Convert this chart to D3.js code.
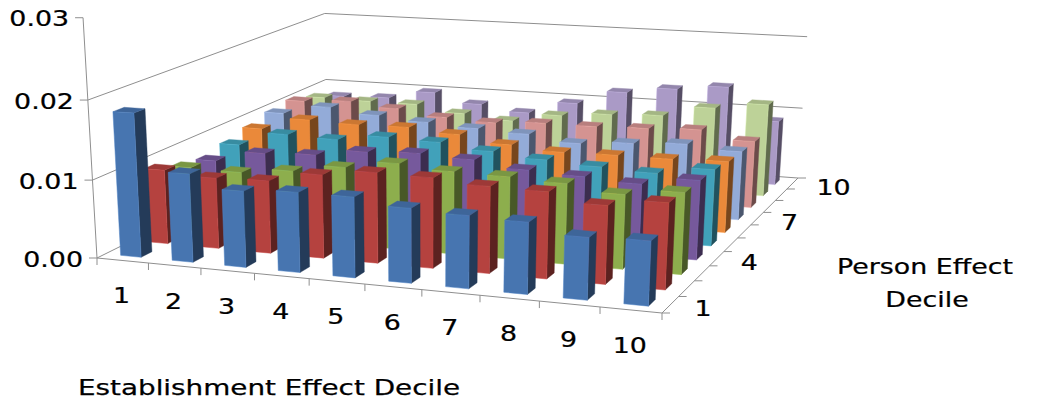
<!DOCTYPE html>
<html>
<head>
<meta charset="utf-8">
<script src="https://cdn.jsdelivr.net/npm/d3@7"></script>
<style>
body { margin: 0; background: #fff; }
svg { display: block; }
text { font-family: "DejaVu Sans", Verdana, sans-serif; font-size: 22px; fill: #000; stroke: #000; stroke-width: 0.25; }
</style>
</head>
<body>
<svg id="chart" width="1048" height="403"></svg>
<script>
// categories
var establishmentDeciles = ["1", "2", "3", "4", "5", "6", "7", "8", "9", "10"];
var personDeciles = ["1", "2", "3", "4", "5", "6", "7", "8", "9", "10"];
var personTickLabels = ["1", "4", "7", "10"];
var valueTicks = [0, 0.01, 0.02, 0.03];
var valueTickLabels = ["0.00", "0.01", "0.02", "0.03"];
var gridValues = [0, 0.01, 0.02];

// one series per person effect decile, values by establishment decile
var person1 = [0.0183, 0.0112, 0.0096, 0.0100, 0.0100, 0.0092, 0.0089, 0.0087, 0.0075, 0.0077];
var person2 = [0.0096, 0.0091, 0.0093, 0.0106, 0.0114, 0.0113, 0.0108, 0.0107, 0.0096, 0.0105];
var person3 = [0.0084, 0.0083, 0.0090, 0.0100, 0.0110, 0.0105, 0.0104, 0.0101, 0.0093, 0.0101];
var person4 = [0.0078, 0.0093, 0.0096, 0.0105, 0.0108, 0.0105, 0.0097, 0.0094, 0.0090, 0.0100];
var person5 = [0.0085, 0.0104, 0.0102, 0.0110, 0.0108, 0.0101, 0.0095, 0.0091, 0.0088, 0.0098];
var person6 = [0.0093, 0.0110, 0.0108, 0.0109, 0.0104, 0.0095, 0.0090, 0.0091, 0.0091, 0.0093];
var person7 = [0.0101, 0.0114, 0.0107, 0.0102, 0.0098, 0.0095, 0.0087, 0.0092, 0.0096, 0.0091];
var person8 = [0.0105, 0.0109, 0.0103, 0.0095, 0.0092, 0.0096, 0.0096, 0.0098, 0.0101, 0.0090];
var person9 = [0.0097, 0.0096, 0.0096, 0.0087, 0.0081, 0.0093, 0.0099, 0.0102, 0.0117, 0.0126];
var person10 = [0.0086, 0.0088, 0.0100, 0.0087, 0.0079, 0.0097, 0.0117, 0.0126, 0.0133, 0.0089];

var seriesValues = [person1, person2, person3, person4, person5, person6, person7, person8, person9, person10];
var seriesColors = ["#4775B0", "#B5423F", "#8DAE4D", "#76599C", "#41A1BA",
                    "#EA893A", "#93ABD8", "#D49391", "#BDD298", "#AA9AC6"];

// camera: floor corners on screen and the vanishing point of vertical edges
var floorFL = [97, 258], floorFR = [662, 313], floorBR = [798, 178], floorBL = [327, 144];
var verticalVanish = [426, 5924];
var liftPerUnit = -1.356;

// square -> quad homography for the floor
var dx1 = floorFR[0] - floorBR[0], dx2 = floorBL[0] - floorBR[0],
    dx3 = floorFL[0] - floorFR[0] + floorBR[0] - floorBL[0];
var dy1 = floorFR[1] - floorBR[1], dy2 = floorBL[1] - floorBR[1],
    dy3 = floorFL[1] - floorFR[1] + floorBR[1] - floorBL[1];
var den = dx1 * dy2 - dx2 * dy1;
var hg = (dx3 * dy2 - dx2 * dy3) / den;
var hh = (dx1 * dy3 - dx3 * dy1) / den;
var ha = floorFR[0] - floorFL[0] + hg * floorFR[0];
var hb = floorBL[0] - floorFL[0] + hh * floorBL[0];
var hc = floorFL[0];
var hd = floorFR[1] - floorFL[1] + hg * floorFR[1];
var he = floorBL[1] - floorFL[1] + hh * floorBL[1];
var hf = floorFL[1];

var lift = d3.scaleLinear().domain([0, 0.03]).range([0, 0.03 * liftPerUnit]);

var uBand = d3.scaleBand().domain(establishmentDeciles).range([0, 1]).paddingInner(0.6).paddingOuter(0.3);
var vBand = d3.scaleBand().domain(personDeciles).range([0, 1]).paddingInner(0.6).paddingOuter(0.3);
var uEdge = d3.scaleLinear().domain([0, establishmentDeciles.length]).range([0, 1]);
var vEdge = d3.scaleLinear().domain([0, personDeciles.length]).range([0, 1]);

function project(u, value, v)
{
    var k = lift(value);
    var w = hg * u + hh * v + 1 + k;
    return [(ha * u + hb * v + hc + k * verticalVanish[0]) / w,
            (hd * u + he * v + hf + k * verticalVanish[1]) / w];
}

function poly(pts)
{
    return "M" + pts.map(function(p) { return project(p[0], p[1], p[2]).join(","); }).join("L") + "Z";
}

function segment(a, b)
{
    var p = project(a[0], a[1], a[2]), q = project(b[0], b[1], b[2]);
    return "M" + p.join(",") + "L" + q.join(",");
}

var svg = d3.select("#chart");
var gridColor = "#8f8f8f";

// walls
var walls = svg.append("g")
    .attr("fill", "none")
    .attr("stroke", gridColor)
    .attr("stroke-width", 1);

walls.selectAll(".left-grid")
    .data(gridValues)
    .enter()
    .append("path")
    .attr("class", "left-grid")
    .attr("d", function(d) { return segment([0, d, 0], [0, d, 1]); });

walls.selectAll(".back-grid")
    .data(gridValues)
    .enter()
    .append("path")
    .attr("class", "back-grid")
    .attr("d", function(d) { return segment([0, d, 1], [1, d, 1]); });

// bars, back rows first, left to right
var bars = [];
for(var j = seriesValues.length - 1; j >= 0; j--)
{
    for(var i = 0; i < establishmentDeciles.length; i++)
    {
        bars.push({ row : j, col : i, value : seriesValues[j][i], color : seriesColors[j] });
    }
}

var barGroups = svg.append("g")
    .selectAll("g")
    .data(bars)
    .enter()
    .append("g");

function barBox(d)
{
    var u0 = uBand(establishmentDeciles[d.col]), u1 = u0 + uBand.bandwidth();
    var v0 = vBand(personDeciles[d.row]), v1 = v0 + vBand.bandwidth();
    return { u0 : u0, u1 : u1, v0 : v0, v1 : v1, t : d.value };
}

barGroups.append("path")
    .attr("d", function(d) {
        var b = barBox(d);
        return poly([[b.u1, 0, b.v0], [b.u1, 0, b.v1], [b.u1, b.t, b.v1], [b.u1, b.t, b.v0]]);
    })
    .attr("fill", function(d) { return d3.color(d.color).darker(1.9); })
    .attr("stroke", function(d) { return d3.color(d.color).darker(1.9); })
    .attr("stroke-width", 0.4);

barGroups.append("path")
    .attr("d", function(d) {
        var b = barBox(d);
        return poly([[b.u0, b.t, b.v0], [b.u1, b.t, b.v0], [b.u1, b.t, b.v1], [b.u0, b.t, b.v1]]);
    })
    .attr("fill", function(d) { return d3.color(d.color).darker(0.4); })
    .attr("stroke", function(d) { return d3.color(d.color).darker(0.4); })
    .attr("stroke-width", 0.4);

barGroups.append("path")
    .attr("d", function(d) {
        var b = barBox(d);
        return poly([[b.u0, 0, b.v0], [b.u1, 0, b.v0], [b.u1, b.t, b.v0], [b.u0, b.t, b.v0]]);
    })
    .attr("fill", function(d) { return d.color; })
    .attr("stroke", function(d) { return d3.color(d.color).brighter(0.3); })
    .attr("stroke-width", 0.5);

// axes
var axes = svg.append("g")
    .attr("fill", "none")
    .attr("stroke", gridColor)
    .attr("stroke-width", 1);

axes.append("path").attr("d", segment([0, 0, 0], [0, 0.03, 0]));
axes.append("path").attr("d", segment([0, 0, 0], [1, 0, 0]));
axes.append("path").attr("d", segment([1, 0, 0], [1, 0, 1]));

axes.selectAll(".vtick")
    .data(valueTicks)
    .enter()
    .append("path")
    .attr("d", function(d) { var p = project(0, d, 0); return "M" + p[0] + "," + p[1] + "h-8"; });

axes.selectAll(".xtick")
    .data(d3.range(establishmentDeciles.length + 1))
    .enter()
    .append("path")
    .attr("d", function(d) { var p = project(uEdge(d), 0, 0); return "M" + p[0] + "," + p[1] + "v7"; });

axes.selectAll(".ztick")
    .data(d3.range(personDeciles.length + 1))
    .enter()
    .append("path")
    .attr("d", function(d) { var p = project(1, 0, vEdge(d)); return "M" + p[0] + "," + p[1] + "h8"; });

// labels
var stretch = 1.22;

function label(x, y, str, anchor)
{
    svg.append("text")
        .attr("transform", "translate(" + x + "," + y + ") scale(" + stretch + ",1)")
        .attr("text-anchor", anchor)
        .text(str);
}

valueTicks.forEach(function(d, k) {
    var p = project(0, d, 0);
    label(p[0] - 14, p[1] + 8.5, valueTickLabels[k], "end");
});

establishmentDeciles.forEach(function(d) {
    var p = project(uBand(d) + uBand.bandwidth() / 2, 0, 0);
    label(p[0] - 1, p[1] + 43, d, "middle");
});

personTickLabels.forEach(function(d) {
    var p = project(1, 0, vBand(d) + vBand.bandwidth() / 2);
    label(p[0] + 24, p[1] + 11.5, d, "start");
});

svg.append("text")
    .attr("x", 78)
    .attr("y", 395)
    .attr("textLength", 382)
    .attr("lengthAdjust", "spacingAndGlyphs")
    .text("Establishment Effect Decile");

label(925, 274, "Person Effect", "middle");
label(927, 307, "Decile", "middle");
</script>
</body>
</html>
